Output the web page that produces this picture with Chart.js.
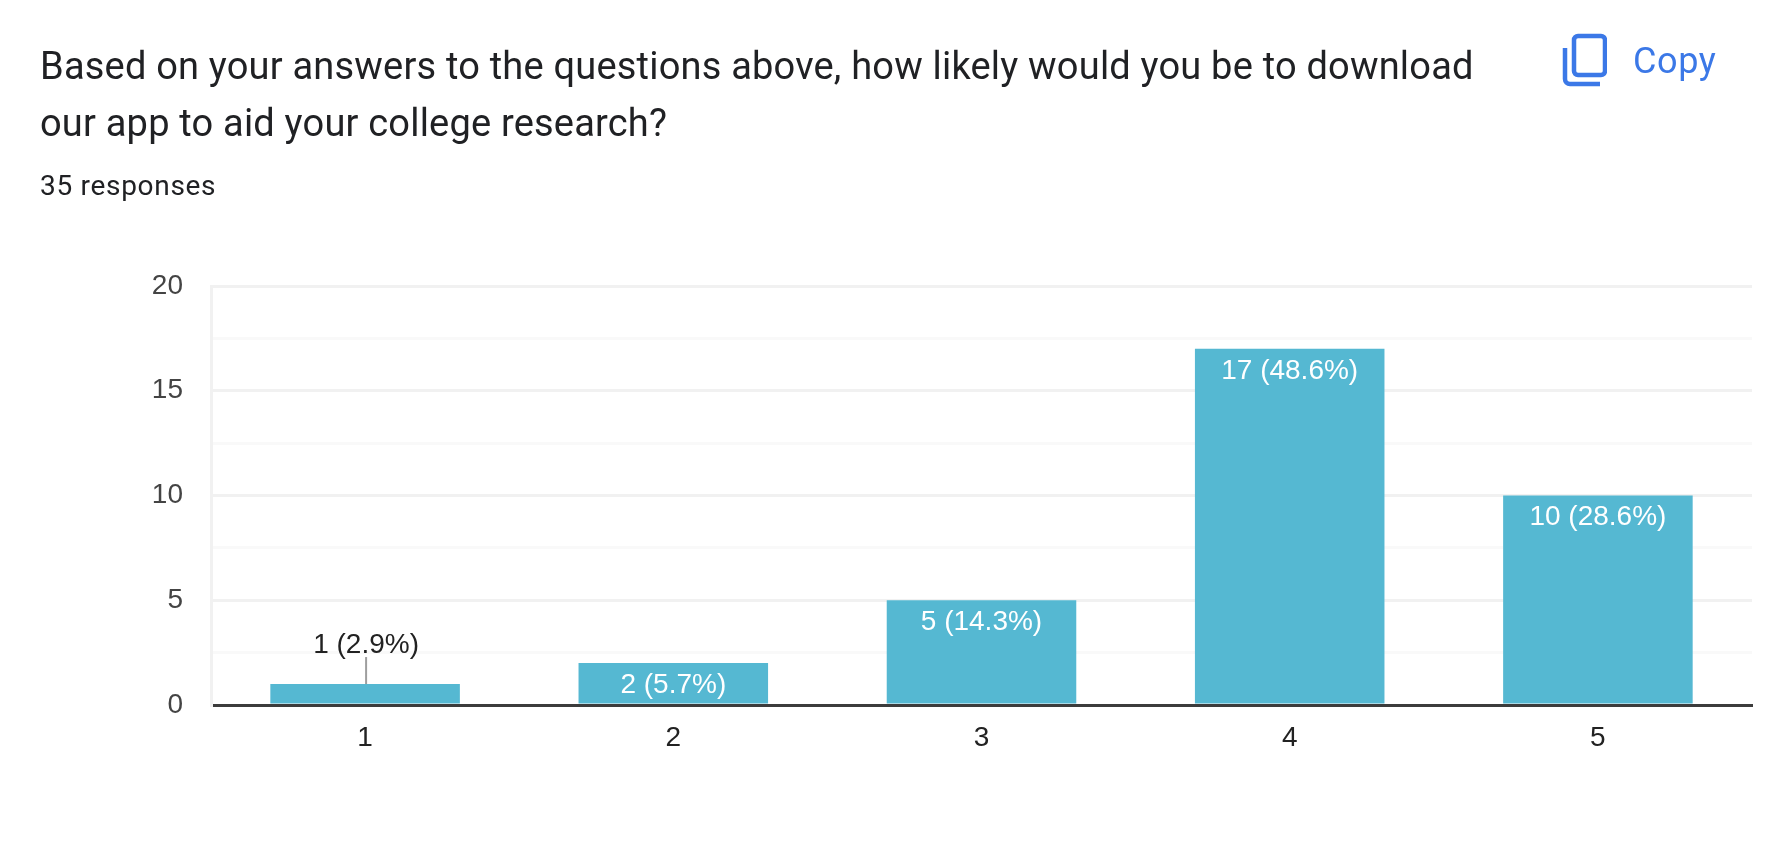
<!DOCTYPE html>
<html><head><meta charset="utf-8">
<script src="https://cdn.jsdelivr.net/npm/chart.js@4"></script>
<style>
html,body{margin:0;padding:0;background:#fff;width:1770px;height:858px;overflow:hidden}
#c{position:absolute;left:0;top:0;width:1770px;height:858px}
.t{position:absolute;font-family:Roboto,sans-serif;white-space:nowrap;color:#202124}
#q1{left:40px;top:44px;font-size:38px;line-height:44px;letter-spacing:.2px}
#q2{left:40px;top:101px;font-size:38px;line-height:44px;letter-spacing:.2px}
#r{left:40px;top:170px;font-size:28px;line-height:32px;letter-spacing:.7px}
#copy{left:1633px;top:41px;font-size:36px;line-height:40px;color:#3b78e7;letter-spacing:.6px}
svg{position:absolute;left:1561px;top:33px}
</style></head><body>
<canvas id="c" width="1770" height="858"></canvas>
<div class="t" id="q1">Based on your answers to the questions above, how likely would you be to download</div>
<div class="t" id="q2">our app to aid your college research?</div>
<div class="t" id="r">35 responses</div>
<div class="t" id="copy">Copy</div>
<svg width="46" height="54" viewBox="0 0 46 54" fill="none" stroke="#3b78e7" stroke-width="4.5">
<rect x="13" y="3" width="31" height="39" rx="4"/>
<path d="M4 15 V46 a5 5 0 0 0 5 5 H39"/>
</svg>
<script>
const categories = ['1','2','3','4','5'];
const counts = [1,2,5,17,10];
const percents = ['2.9','5.7','14.3','48.6','28.6'];
const yTickLabels = [0,5,10,15,20];

const labelPlugin = {
  id:'barLabels',
  afterDatasetsDraw(chart){
    const {ctx,scales:{x,y}} = chart;
    ctx.save();
    ctx.font = '28px "Liberation Sans", Arial, sans-serif';
    ctx.textAlign='center';
    ctx.textBaseline='middle';
    counts.forEach((v,i)=>{
      const px = x.getPixelForValue(i), py = y.getPixelForValue(v);
      const txt = `${v} (${percents[i]}%)`;
      if(v<2){
        ctx.strokeStyle='#9e9e9e'; ctx.lineWidth=2;
        ctx.beginPath(); ctx.moveTo(px+1,py); ctx.lineTo(px+1,py-27); ctx.stroke();
        ctx.fillStyle='#222';
        ctx.fillText(txt,px+1,py-39);
      } else {
        ctx.fillStyle='#fff';
        ctx.fillText(txt,px,py+22);
      }
    });
    ctx.restore();
  }
};

new Chart(document.getElementById('c'),{
  type:'bar',
  data:{labels:categories,datasets:[{data:counts,backgroundColor:'#55b8d2',barPercentage:.615,categoryPercentage:1,borderWidth:0}]},
  plugins:[labelPlugin],
  options:{
    responsive:false,animation:false,
    layout:{padding:{top:286,right:18,left:0,bottom:0}},
    plugins:{legend:{display:false},tooltip:{enabled:false}},
    scales:{
      x:{
        afterFit(s){s.height=153;},
        grid:{display:false,drawTicks:false},
        border:{color:'#3c3c3c',width:3},
        ticks:{color:'#222',padding:16,font:{family:'"Liberation Sans", Arial, sans-serif',size:28}}
      },
      y:{
        min:0,max:20,
        afterFit(s){s.width=211;},
        afterBuildTicks(s){
          const out=[];
          yTickLabels.forEach((v,i)=>{out.push({value:v}); if(i<yTickLabels.length-1) out.push({value:v+2.5});});
          s.ticks=out;
        },
        grid:{drawTicks:false,lineWidth:3,color:c=>c.tick && c.tick.value%5===0?'#f1f1f1':'#f9f9f9'},
        border:{color:'#f1f1f1',width:3},
        ticks:{color:'#444',padding:28,autoSkip:false,font:{family:'"Liberation Sans", Arial, sans-serif',size:28},
          callback(v){return yTickLabels.includes(v)?String(v):'';}}
      }
    }
  }
});
</script>
</body></html>
